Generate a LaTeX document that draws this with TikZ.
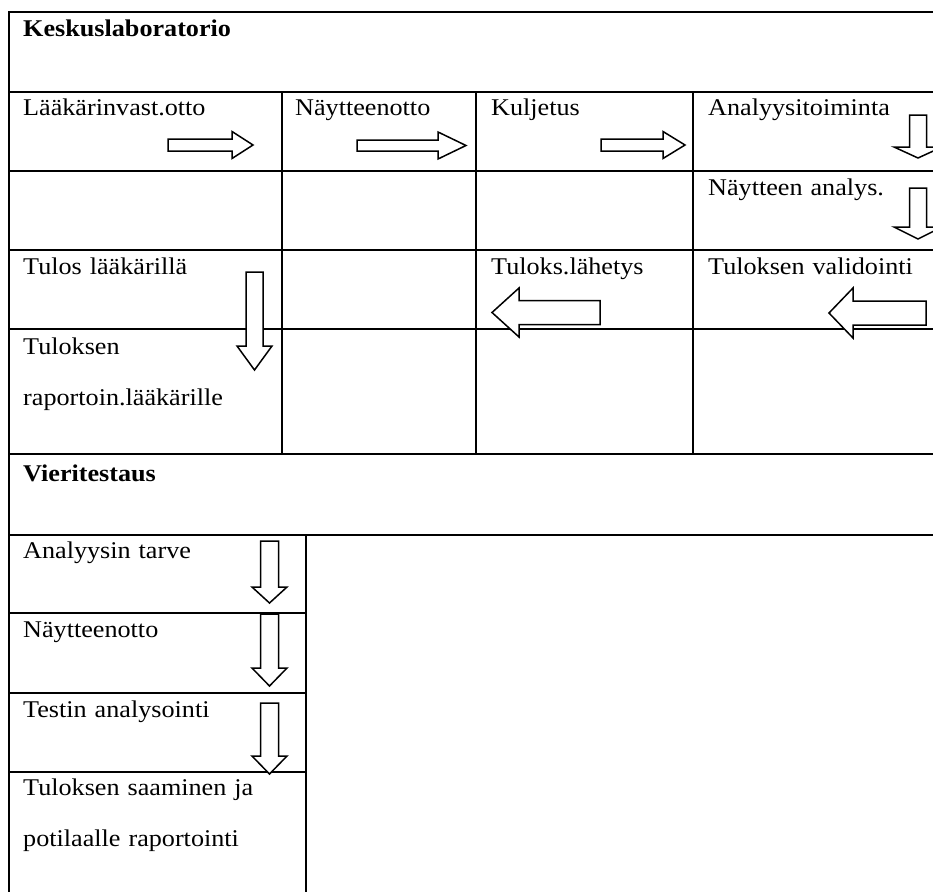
\documentclass[tikz,border=0pt]{standalone}
\usepackage{fontspec}
\setmainfont[FakeStretch=1.09]{Liberation Serif}
\begin{document}
\begin{tikzpicture}[x=1pt,y=-1pt,
  grid/.style={line width=2.8pt,line cap=rect},
  blockarrow/.style={draw,fill=white,line width=1.5pt,line join=miter},
  cell/.style={anchor=base west,inner sep=0pt,text width=320pt,align=left,
    font=\fontsize{24}{51}\selectfont},
  head/.style={cell,font=\fontsize{24}{51}\selectfont\bfseries}]
\useasboundingbox (0,0) rectangle (933,891);

% table rules
\draw[grid] (9,12) -- (940,12);
\foreach \y in {92,171,250,329,454,535} \draw[grid] (9,\y) -- (940,\y);
\draw[grid] (9,12) -- (9,900);
\foreach \x in {282,476,693} \draw[grid] (\x,92) -- (\x,454);
\foreach \y in {613,693,772} \draw[grid] (9,\y) -- (306,\y);
\draw[grid] (306,535) -- (306,900);

% cell texts
\node[head] (kesk) at (23,37) {Keskuslaboratorio};
\node[cell] (laak) at (23,115) {Lääkärinvast.otto};
\node[cell] (nayt) at (295,115) {Näytteenotto};
\node[cell] (kulj) at (491,115) {Kuljetus};
\node[cell] (anal) at (708,115) {Analyysitoiminta};
\node[cell] (nana) at (708,195) {Näytteen analys.};
\node[cell] (tlaa) at (23,274) {Tulos lääkärillä};
\node[cell] (tlah) at (491,274) {Tuloks.lähetys};
\node[cell] (tval) at (708,274) {Tuloksen validointi};
\node[cell] (trap) at (23,354) {Tuloksen\\raportoin.lääkärille};
\node[head] (vier) at (23,481) {Vieritestaus};
\node[cell] (vtar) at (23,558) {Analyysin tarve};
\node[cell] (vnay) at (23,637) {Näytteenotto};
\node[cell] (vtes) at (23,717) {Testin analysointi};
\node[cell] (vsaa) at (23,795) {Tuloksen saaminen ja\\potilaalle raportointi};

% block arrows
% right: body left, head back, tip, centre y, half body, half head
\newcommand\rightblock[6]{\draw[blockarrow] (#1,#4-#5) -- (#2,#4-#5) -- (#2,#4-#6)
  -- (#3,#4) -- (#2,#4+#6) -- (#2,#4+#5) -- (#1,#4+#5) -- cycle;}
% down: body top, head start, tip, centre x, half body, half head
\newcommand\downblock[6]{\draw[blockarrow] (#4-#5,#1) -- (#4+#5,#1) -- (#4+#5,#2)
  -- (#4+#6,#2) -- (#4,#3) -- (#4-#6,#2) -- (#4-#5,#2) -- cycle;}

\rightblock{168}{232}{253}{145}{6}{13.5}
\rightblock{357}{438}{466}{145.5}{5.5}{13.5}
\rightblock{601}{663}{685}{145}{6}{13.5}
\downblock{115}{147}{158}{918}{8.5}{24}
\downblock{188}{227}{239}{918}{8.5}{24}
\rightblock{926}{853}{829}{313}{12}{25}
\rightblock{600}{519}{492}{312.5}{12}{24.5}
\downblock{272}{346}{370}{254.5}{8.5}{17.5}
\downblock{541}{587}{603}{269.5}{9}{17.5}
\downblock{614}{668}{686}{269.5}{9}{17.5}
\downblock{703}{756}{774}{269.5}{9}{17.5}
\end{tikzpicture}
\end{document}
